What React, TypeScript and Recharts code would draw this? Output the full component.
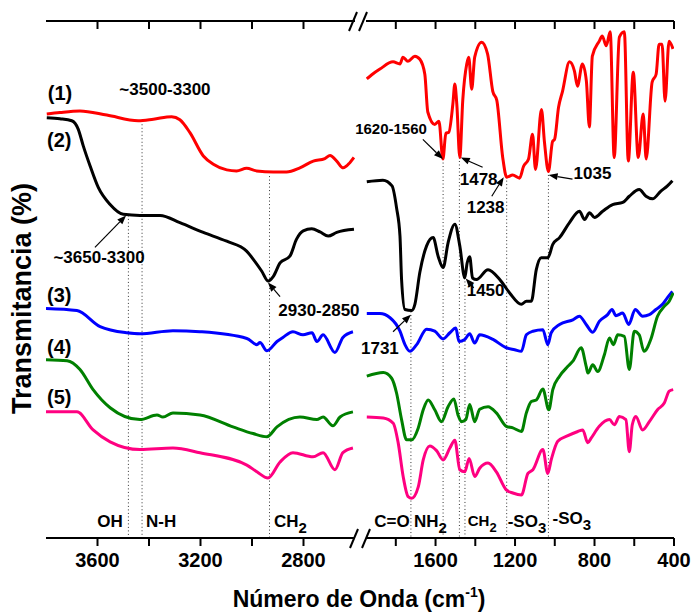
import React from 'react';
import { LineChart, Line, XAxis, YAxis, ReferenceLine, ReferenceDot } from 'recharts';

const FONT = '"Liberation Sans", Arial, Helvetica, sans-serif';

// ---------- data: [wavenumber (cm-1), transmittance (offset, a.u.)] ----------
// left panel 3800-2600
const s1Left = [[3797,82.0],[3746,82.3],[3668,82.6],[3564,81.8],[3442,80.7],[3383,81.0],[3312,81.5],[3280,80.9],[3241,78.4],[3189,73.9],[3150,72.3],[3098,71.2],[3060,71.0],[3021,71.5],[2982,71.0],[2917,70.8],[2866,70.8],[2814,71.6],[2762,72.9],[2717,73.4],[2697,74.0],[2671,72.9],[2646,71.6],[2620,72.6],[2604,73.6]];
const s2Left = [[3797,81.3],[3746,81.1],[3700,80.7],[3675,79.1],[3655,75.8],[3629,72.0],[3597,67.8],[3551,64.5],[3500,62.6],[3435,62.4],[3357,62.4],[3280,61.0],[3189,59.1],[3098,57.4],[3021,55.5],[2995,53.9],[2962,51.6],[2937,49.7],[2917,50.6],[2891,53.2],[2853,54.5],[2827,57.8],[2801,59.4],[2768,59.8],[2736,59.2],[2704,58.4],[2671,59.1],[2604,59.7]];
const s3Left = [[3800,44.4],[3680,44.0],[3590,40.9],[3485,39.7],[3435,39.5],[3307,40.1],[3202,39.9],[3020,38.6],[2981,37.4],[2969,37.8],[2942,36.2],[2903,38.0],[2880,38.8],[2841,39.9],[2802,39.3],[2767,39.7],[2748,38.0],[2724,39.3],[2678,35.9],[2647,38.8],[2608,39.9]];
const s4Left = [[3800,34.5],[3718,34.3],[3668,32.6],[3617,28.7],[3551,25.2],[3435,22.9],[3369,23.8],[3346,23.4],[3307,24.2],[3202,23.8],[3074,21.5],[2996,20.2],[2942,19.6],[2903,21.5],[2814,23.4],[2748,22.9],[2724,23.4],[2686,21.7],[2658,23.4],[2608,24.4]];
const s5Left = [[3800,24.4],[3680,24.4],[3617,20.9],[3551,18.6],[3435,17.1],[3307,17.4],[3202,16.5],[3020,14.1],[2981,12.8],[2938,11.6],[2891,14.7],[2841,16.5],[2763,15.7],[2724,16.5],[2678,13.2],[2647,16.5],[2608,17.4]];

// right panel 1950-400
const s1Right = [[1946,88.8],[1921,89.6],[1880,90.7],[1814,92.1],[1779,91.7],[1764,93.0],[1739,92.2],[1704,93.2],[1679,92.6],[1654,89.7],[1639,82.4],[1604,80.0],[1583,80.6],[1563,73.3],[1548,78.3],[1533,78.5],[1513,83.9],[1503,87.8],[1493,83.9],[1478,73.6],[1463,84.7],[1443,91.7],[1433,93.0],[1418,86.8],[1403,93.0],[1368,95.9],[1338,93.6],[1312,86.4],[1292,84.7],[1262,73.6],[1242,69.8],[1212,70.2],[1177,69.6],[1157,71.9],[1132,73.3],[1112,78.1],[1097,71.3],[1067,82.9],[1052,76.6],[1032,70.9],[1011,76.7],[1001,77.1],[981,83.3],[961,86.4],[926,92.1],[901,90.3],[886,87.4],[861,91.7],[841,88.4],[826,79.5],[811,93.2],[776,96.1],[761,97.1],[741,95.2],[721,97.9],[701,73.6],[675,96.9],[650,97.9],[630,72.9],[605,90.1],[580,73.6],[555,82.0],[540,73.3],[510,88.2],[490,89.7],[475,95.5],[460,95.5],[445,84.5],[425,96.1],[405,94.6]];
const s2Right = [[1946,68.9],[1865,69.2],[1819,68.1],[1796,63.8],[1779,58.4],[1771,50.0],[1754,44.2],[1720,44.0],[1704,45.2],[1679,51.4],[1645,56.5],[1612,58.1],[1587,54.5],[1562,52.3],[1537,57.1],[1503,60.7],[1478,56.5],[1453,50.3],[1441,53.2],[1428,54.4],[1414,50.3],[1394,50.0],[1336,51.9],[1277,50.0],[1227,47.4],[1168,45.2],[1143,45.8],[1118,45.8],[1093,51.9],[1068,54.2],[1035,54.2],[1010,56.8],[976,58.1],[926,61.0],[876,63.2],[850,61.6],[825,62.9],[800,62.0],[759,63.2],[709,64.5],[658,64.9],[625,66.1],[575,67.4],[541,66.1],[508,65.6],[466,67.1],[433,68.1],[408,69.1]];
const s3Right = [[1946,43.4],[1880,43.4],[1829,42.6],[1779,40.0],[1754,37.4],[1729,36.1],[1695,37.4],[1645,40.4],[1604,40.0],[1562,38.5],[1528,39.7],[1498,40.6],[1482,38.0],[1453,38.4],[1428,39.5],[1403,37.7],[1378,39.3],[1311,38.4],[1244,36.8],[1202,36.4],[1168,36.1],[1143,39.3],[1110,40.0],[1060,40.3],[1035,37.4],[1018,39.7],[976,41.3],[909,42.2],[876,42.9],[842,41.3],[809,39.8],[776,41.9],[734,43.2],[712,44.2],[692,43.0],[658,43.5],[628,41.3],[595,44.2],[558,42.9],[524,43.2],[491,44.2],[458,45.2],[433,46.5],[408,47.7]];
const s4Right = [[1946,31.3],[1863,32.0],[1821,30.9],[1796,28.0],[1771,22.9],[1746,19.0],[1720,19.0],[1687,21.3],[1662,24.8],[1637,26.7],[1604,24.8],[1570,22.5],[1537,25.4],[1508,26.9],[1487,23.8],[1470,22.5],[1448,22.9],[1428,25.8],[1403,22.5],[1378,24.9],[1336,25.4],[1294,24.2],[1244,21.6],[1211,21.3],[1168,20.6],[1143,24.2],[1118,26.4],[1093,26.7],[1060,28.8],[1030,24.8],[1010,28.7],[976,31.3],[934,33.2],[909,34.2],[867,36.8],[842,33.2],[833,31.9],[809,33.5],[784,32.2],[750,35.5],[725,38.7],[705,37.4],[683,39.3],[650,39.0],[625,32.6],[600,40.0],[575,39.3],[551,36.1],[517,38.4],[483,42.9],[449,44.8],[424,45.8],[404,47.4]];
const s5Right = [[1946,23.4],[1863,23.2],[1813,22.2],[1788,18.4],[1763,11.9],[1738,8.0],[1720,7.7],[1687,9.9],[1662,15.1],[1629,17.8],[1595,16.9],[1562,15.1],[1528,17.4],[1503,18.9],[1478,13.2],[1453,12.8],[1431,15.4],[1403,11.9],[1378,13.5],[1336,14.5],[1294,12.8],[1244,9.3],[1211,8.7],[1168,8.3],[1135,12.5],[1110,13.2],[1060,17.1],[1035,12.5],[1018,15.1],[985,18.7],[934,19.8],[884,20.6],[859,20.9],[834,18.4],[817,19.3],[776,21.6],[725,22.9],[700,21.9],[675,23.5],[642,22.9],[625,16.7],[610,21.9],[592,23.5],[558,20.9],[524,22.5],[483,24.8],[449,26.1],[424,28.4],[404,28.7]];

const seriesColors = ['#ff0000', '#000000', '#0000ff', '#008000', '#ff0080'];
const leftSeries = [s1Left, s2Left, s3Left, s4Left, s5Left];
const rightSeries = [s1Right, s2Right, s3Right, s4Right, s5Right];

const leftDomain = [2600, 3800];
const rightDomain = [400, 1950];
const leftTicks = [3600, 3400, 3200, 3000, 2800];
const rightTicks = [1800, 1600, 1400, 1200, 1000, 800, 600, 400];
const yDomain = [0, 100];

// dotted marker lines: [wavenumber, top value]
const leftMarkers = [[3480, 62.4], [3427, 80.7], [2932, 70.0]];
const rightMarkers = [[1724, 43.8], [1562, 73.3], [1480, 73.6], [1452, 50.3], [1242, 69.8], [1032, 70.9]];

// arrows: [fromWn, fromT, toWn, toT]
const leftArrows = [[3610, 56.2, 3489, 62.4], [2891, 46.7, 2938, 49.4]];
const rightArrows = [[1664, 77.1, 1563, 73.3], [1363, 71.7, 1473, 73.6], [1317, 66.1, 1257, 69.8], [911, 69.4, 1031, 70.2], [1814, 39.9, 1724, 43.2], [1408, 48.4, 1448, 50.2]];

// labels: [wn, t, text, subscript, anchor, size]
const leftLabels: any[] = [
  [3793, 86.2, '(1)', '', 'start', 20],
  [3796, 77.1, '(2)', '', 'start', 20],
  [3796, 47.1, '(3)', '', 'start', 20],
  [3796, 37.0, '(4)', '', 'start', 20],
  [3796, 27.3, '(5)', '', 'start', 20],
  [3338, 86.8, '~3500-3300', '', 'middle', 17],
  [3594, 54.3, '~3650-3300', '', 'middle', 17],
  [2740, 44.2, '2930-2850', '', 'middle', 17],
  [3551, 3.3, 'OH', '', 'middle', 17],
  [3353, 3.3, 'N-H', '', 'middle', 17],
  [2915, 3.3, 'CH', '2', 'start', 17],
];
const rightLabels: any[] = [
  [1824, 79.1, '1620-1560', '', 'middle', 15],
  [1383, 69.4, '1478', '', 'middle', 17],
  [1348, 64.0, '1238', '', 'middle', 17],
  [810, 70.7, '1035', '', 'middle', 17],
  [1880, 36.8, '1731', '', 'middle', 17],
  [1348, 47.9, '1450', '', 'middle', 17],
  [1819, 3.3, 'C=O', '', 'middle', 17],
  [1709, 3.3, 'NH', '2', 'start', 17],
  [1438, 3.3, 'CH', '2', 'start', 15],
  [1237, 3.3, '-SO', '3', 'start', 17],
  [1011, 3.9, '-SO', '3', 'start', 17],
];

const toData = (arr: number[][]) => arr.map(([x, t]) => ({ x, t }));

const ArrowShape = (p: any) => {
  const { x1, y1, x2, y2 } = p;
  if ([x1, y1, x2, y2].some((v) => v == null || isNaN(v))) return <g />;
  const ang = Math.atan2(y2 - y1, x2 - x1);
  const L = 9, W = 3.5;
  const bx = x2 - L * Math.cos(ang), by = y2 - L * Math.sin(ang);
  const px = -Math.sin(ang) * W, py = Math.cos(ang) * W;
  return (
    <g>
      <line x1={x1} y1={y1} x2={bx} y2={by} stroke="#000" strokeWidth={1.2} />
      <polygon points={`${x2},${y2} ${bx + px},${by + py} ${bx - px},${by - py}`} fill="#000" />
    </g>
  );
};

const makeLabelShape = (text: string, sub: string, anchor: string, size: number) => (p: any) => (
  <text x={p.cx} y={p.cy} dy="0.36em" textAnchor={anchor} fontSize={size} fontWeight={700} fill="#000" fontFamily={FONT}>
    {text}
    {sub ? <tspan dy={6} fontSize={size - 2}>{sub}</tspan> : null}
  </text>
);

const axisStyle = { stroke: '#000', strokeWidth: 2 };
const tickStyle = { fill: '#000', fontSize: 20, fontWeight: 700, fontFamily: FONT };

function Panel(props: any) {
  const { series, domain, ticks, markers, arrows, labels, width, margin, rightAxis } = props;
  return (
    <LineChart width={width} height={615} margin={margin}>
      <XAxis xAxisId="b" type="number" dataKey="x" domain={domain} reversed allowDataOverflow ticks={ticks} interval={0}
        tickFormatter={(v: number) => (v % 400 === 0 ? String(v) : '')} height={40} tickSize={8} tickMargin={7}
        axisLine={axisStyle} tickLine={axisStyle} tick={tickStyle} />
      <XAxis xAxisId="t" orientation="top" mirror type="number" dataKey="x" domain={domain} reversed allowDataOverflow ticks={ticks} interval={0}
        tickFormatter={() => ''} tickSize={8} axisLine={axisStyle} tickLine={axisStyle} />
      {rightAxis ? (
        <YAxis yAxisId="y" orientation="right" domain={yDomain} width={0} tick={false} tickLine={false} axisLine={axisStyle} allowDataOverflow />
      ) : (
        <YAxis yAxisId="y" orientation="left" domain={yDomain} width={0} tick={false} tickLine={false} axisLine={axisStyle} allowDataOverflow />
      )}
      {markers.map(([wn, top]: number[], i: number) => (
        <ReferenceLine key={'m' + i} xAxisId="b" yAxisId="y" segment={[{ x: wn, y: top }, { x: wn, y: 0 }]}
          stroke="#333" strokeWidth={1} strokeDasharray="1 2.5" ifOverflow="visible" />
      ))}
      {series.map((s: number[][], i: number) => (
        <Line key={'s' + i} xAxisId="b" yAxisId="y" data={toData(s)} dataKey="t" type="monotone" stroke={seriesColors[i]}
          strokeWidth={3} dot={false} activeDot={false} isAnimationActive={false} />
      ))}
      {arrows.map(([a, b, c, d]: number[], i: number) => (
        <ReferenceLine key={'a' + i} xAxisId="b" yAxisId="y" segment={[{ x: a, y: b }, { x: c, y: d }]} ifOverflow="visible" shape={ArrowShape} />
      ))}
      {labels.map(([wn, t, text, sub, anchor, size]: any[], i: number) => (
        <ReferenceDot key={'l' + i} xAxisId="b" yAxisId="y" x={wn} y={t} r={0} ifOverflow="visible"
          shape={makeLabelShape(text, sub, anchor, size)} />
      ))}
    </LineChart>
  );
}

export default function App() {
  return (
    <div style={{ position: 'absolute', left: 0, top: 0, width: 694, height: 615, background: '#fff', fontFamily: FONT }}>
      <div style={{ position: 'absolute', left: 0, top: 0 }}>
        <Panel series={leftSeries} domain={leftDomain} ticks={leftTicks} markers={leftMarkers} arrows={leftArrows}
          labels={leftLabels} width={385} margin={{ top: 21, right: 30, bottom: 37, left: 46 }} rightAxis={false} />
      </div>
      <div style={{ position: 'absolute', left: 340, top: 0 }}>
        <Panel series={rightSeries} domain={rightDomain} ticks={rightTicks} markers={rightMarkers} arrows={rightArrows}
          labels={rightLabels} width={354} margin={{ top: 21, right: 20, bottom: 37, left: 26 }} rightAxis={true} />
      </div>
      <svg width={694} height={615} style={{ position: 'absolute', left: 0, top: 0, pointerEvents: 'none' }}>
        <g stroke="#000" strokeWidth={2}>
          <line x1={349} y1={31} x2={357} y2={12} />
          <line x1={359} y1={31} x2={367} y2={12} />
          <line x1={350} y1={548} x2={358} y2={529} />
          <line x1={362} y1={548} x2={370} y2={529} />
        </g>
        <text x={359} y={607} textAnchor="middle" fontSize={23} fontWeight={700} fontFamily={FONT} fill="#000">
          Número de Onda (cm<tspan dy={-10} fontSize={14}>-1</tspan><tspan dy={10}>)</tspan>
        </text>
        <text transform="translate(31,298.5) rotate(-90)" textAnchor="middle" fontSize={27} fontWeight={700} fontFamily={FONT} fill="#000">
          Transmitancia (%)
        </text>
      </svg>
    </div>
  );
}
